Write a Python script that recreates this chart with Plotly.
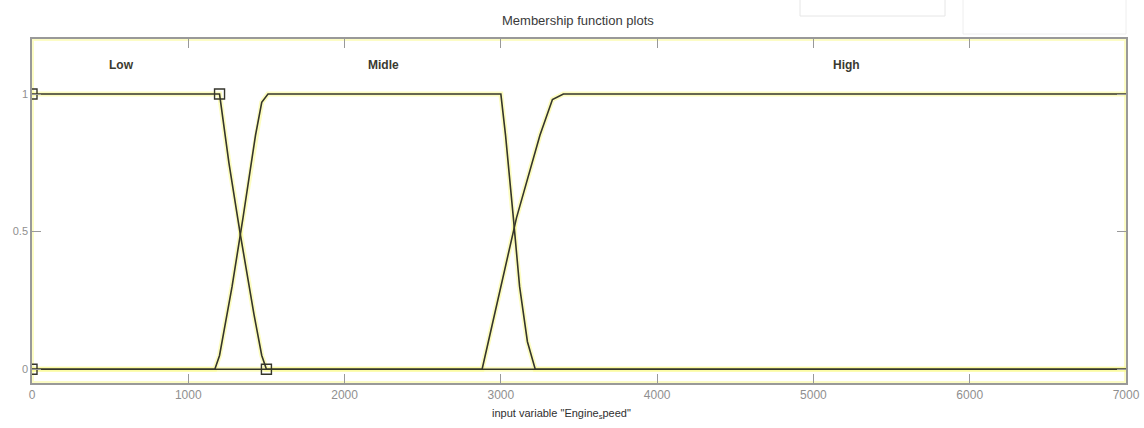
import plotly.graph_objects as go

# ---- data ----
low_x = [0, 1200, 1260, 1330, 1420, 1470, 1500, 7000]
low_y = [1, 1, 0.75, 0.5, 0.2, 0.05, 0, 0]

midle_x = [0, 1170, 1200, 1280, 1350, 1430, 1470, 1510, 3000, 3030, 3080, 3120, 3170, 3220, 7000]
midle_y = [0, 0, 0.05, 0.3, 0.55, 0.85, 0.97, 1, 1, 0.85, 0.55, 0.3, 0.1, 0, 0]

high_x = [0, 2880, 2920, 3000, 3100, 3250, 3330, 3400, 7000]
high_y = [0, 0, 0.1, 0.3, 0.55, 0.85, 0.98, 1, 1]

mf_names = ["Low", "Midle", "High"]
label_x = [570, 2250, 5210]
label_y = [1.105, 1.105, 1.105]

marker_x = [0, 1200, 1500, 0]
marker_y = [1, 1, 0, 0]

x_ticks = [0, 1000, 2000, 3000, 4000, 5000, 6000, 7000]
y_ticks = [0, 0.5, 1]
y_tick_text = ["0", "0.5", "1"]

title_text = "Membership function plots"
x_title = 'input variable "Engine<sub>s</sub>peed"'

# ---- figure ----
fig = go.Figure()
glow = "rgba(250,250,140,0.55)"
dark = "#35352b"

for xs, ys in [(low_x, low_y), (midle_x, midle_y), (high_x, high_y)]:
    fig.add_trace(go.Scatter(x=xs, y=ys, mode="lines",
                             line=dict(color=glow, width=5), hoverinfo="skip", showlegend=False))
for xs, ys in [(low_x, low_y), (midle_x, midle_y), (high_x, high_y)]:
    fig.add_trace(go.Scatter(x=xs, y=ys, mode="lines",
                             line=dict(color=dark, width=1.6), showlegend=False))

fig.add_trace(go.Scatter(x=marker_x, y=marker_y, mode="markers",
                         marker=dict(symbol="square-open", size=10, color=dark,
                                     line=dict(width=1.4, color=dark)),
                         showlegend=False, cliponaxis=True))

for name, lx, ly in zip(mf_names, label_x, label_y):
    fig.add_annotation(x=lx, y=ly, text="<b>" + name + "</b>", showarrow=False,
                       font=dict(family="Liberation Sans, Arial", size=12, color="#3a3a30"))

fig.add_annotation(x=(578 - 32) / 1094, y=1.0, xref="paper", yref="paper", yanchor="middle",
                   yshift=19, text=title_text, showarrow=False,
                   font=dict(family="Liberation Sans, Arial", size=13, color="#3a3a3a"))

fig.add_annotation(x=(561 - 32) / 1094, y=0, xref="paper", yref="paper", yanchor="middle",
                   yshift=-31, text=x_title, showarrow=False,
                   font=dict(family="Liberation Sans, Arial", size=11, color="#2f2f2f"))

# faint UI boxes top-right
fig.add_shape(type="rect", xref="paper", yref="paper",
              x0=(800 - 32) / 1094, x1=(945 - 32) / 1094,
              y0=(383 - 16) / 344, y1=(383 + 5) / 344,
              line=dict(color="#e6e6e6", width=1))
fig.add_shape(type="rect", xref="paper", yref="paper",
              x0=(963 - 32) / 1094, x1=(1126 - 32) / 1094,
              y0=(383 - 34) / 344, y1=(383 + 5) / 344,
              line=dict(color="#eeeeee", width=1))
# yellowish glow around the frame
fig.add_shape(type="rect", xref="paper", yref="paper", x0=0, x1=1, y0=0, y1=1,
              line=dict(color="rgba(250,250,150,0.55)", width=4), layer="below")

fig.update_layout(
    width=1144, height=428,
    margin=dict(l=32, r=18, t=39, b=45),
    paper_bgcolor="white", plot_bgcolor="white",
    font=dict(family="Liberation Sans, Arial", size=12, color="#8f8f8f"),
)
fig.update_xaxes(range=[0, 7000], tickvals=x_ticks, ticks="inside", ticklen=9, automargin=False,
                 tickcolor="#999", showline=True, linecolor="#999", linewidth=1.5, mirror="ticks",
                 showgrid=False, zeroline=False,
                 tickfont=dict(color="#8f8f8f", size=12))
fig.update_yaxes(range=[-0.05, 1.2], tickvals=y_ticks, ticktext=y_tick_text, ticks="inside",
                 ticklen=9, tickcolor="#999", showline=True, linecolor="#999", linewidth=1.5,
                 mirror="ticks", showgrid=False, zeroline=False, automargin=False,
                 tickfont=dict(color="#8f8f8f", size=11))

fig.write_html("out.html", config={"displayModeBar": False},
               post_script="document.body.style.margin='0';document.body.style.overflow='hidden';")
